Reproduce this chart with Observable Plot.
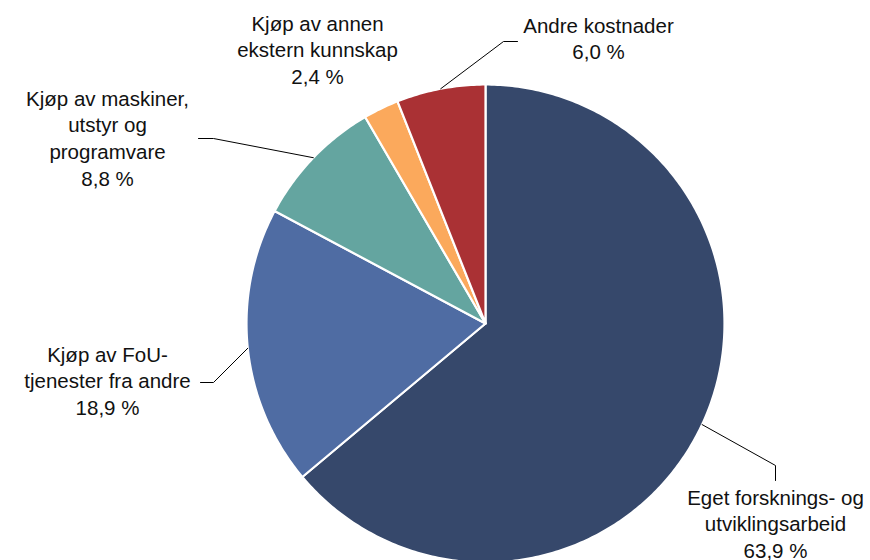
<!DOCTYPE html>
<html>
<head>
<meta charset="utf-8">
<script src="https://cdn.jsdelivr.net/npm/d3@7"></script>
<script src="https://cdn.jsdelivr.net/npm/@observablehq/plot@0.6"></script>
<style>
  html, body { margin: 0; padding: 0; background: #fff; }
  #chart svg { display: block; }
</style>
</head>
<body>
<div id="chart"></div>
<script>
// Data (clockwise from 12 o'clock)
const categories = [
  "Eget forsknings- og utviklingsarbeid",
  "Kjøp av FoU-tjenester fra andre",
  "Kjøp av maskiner, utstyr og programvare",
  "Kjøp av annen ekstern kunnskap",
  "Andre kostnader"
];
const values = [63.9, 18.9, 8.8, 2.4, 6.0];
const valueLabels = ["63,9 %", "18,9 %", "8,8 %", "2,4 %", "6,0 %"];
const labelLines = [
  "Eget forsknings- og\nutviklingsarbeid",
  "Kjøp av FoU-\ntjenester fra andre",
  "Kjøp av maskiner,\nutstyr og\nprogramvare",
  "Kjøp av annen\nekstern kunnskap",
  "Andre kostnader"
];
const colors = ["#36486b", "#4f6ca3", "#64a5a0", "#fba95c", "#aa3134"];

// Layout
const W = 870, H = 560;
const cx = 485, cy = 323, R = 239;
const labelPos = [[775, 485], [107, 342], [107, 86], [317, 11], [598, 13]];
const knees = [[775, 465], [213, 382], [213, 138], null, [503, 41]];
const ends  = [[775, 480], [200, 382], [198, 138], null, [517, 41]];

const arcs = d3.pie().sort(null).value(d => d)(values);

// polygon points of slices
const slicePts = [];
arcs.forEach((a, i) => {
  const n = Math.max(2, Math.ceil((a.endAngle - a.startAngle) * 80));
  slicePts.push({k: categories[i], x: cx, y: cy});
  for (let j = 0; j <= n; j++) {
    const t = a.startAngle + (a.endAngle - a.startAngle) * j / n;
    slicePts.push({k: categories[i], x: cx + R * Math.sin(t), y: cy - R * Math.cos(t)});
  }
});

// leader lines
const leaderPts = [];
arcs.forEach((a, i) => {
  if (!knees[i]) return;
  const m = (a.startAngle + a.endAngle) / 2;
  leaderPts.push({k: i, x: cx + R * Math.sin(m), y: cy - R * Math.cos(m)});
  leaderPts.push({k: i, x: knees[i][0], y: knees[i][1]});
  leaderPts.push({k: i, x: ends[i][0], y: ends[i][1]});
});

const labels = categories.map((c, i) => ({
  text: labelLines[i] + "\n" + valueLabels[i],
  x: labelPos[i][0], y: labelPos[i][1]
}));

const chart = Plot.plot({
  width: W, height: H,
  margin: 0,
  x: {domain: [0, W], range: [0, W], axis: null},
  y: {domain: [0, H], range: [0, H], axis: null},
  color: {domain: categories, range: colors},
  style: {fontFamily: "Arial, 'Liberation Sans', sans-serif", background: "#fff"},
  marks: [
    Plot.line(slicePts, {x: "x", y: "y", z: "k", fill: "k", stroke: "white", strokeWidth: 2.2, curve: "linear-closed", strokeLinejoin: "round"}),
    Plot.line(leaderPts, {x: "x", y: "y", z: "k", stroke: "#000", strokeWidth: 1}),
    Plot.text(labels, {x: "x", y: "y", text: "text", fontSize: 20.5, lineHeight: 1.31, lineAnchor: "top", textAnchor: "middle", fill: "#111", fontFamily: "Arial, 'Liberation Sans', sans-serif"})
  ]
});
document.getElementById("chart").appendChild(chart);
</script>
</body>
</html>
